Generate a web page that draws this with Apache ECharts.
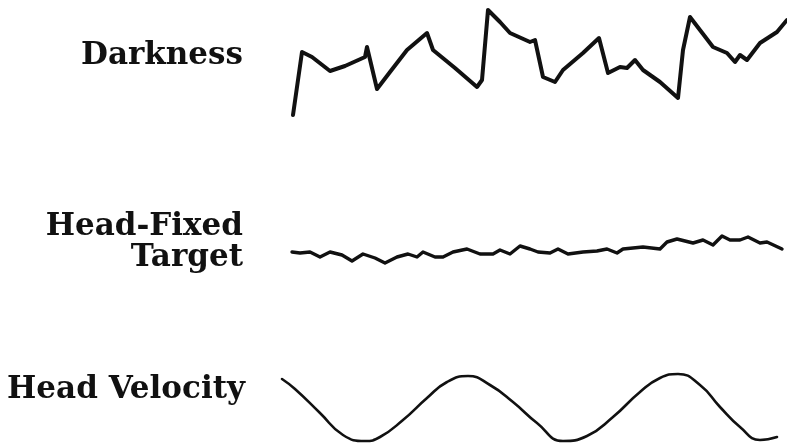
<!DOCTYPE html>
<html><head><meta charset="utf-8">
<script src="https://cdn.jsdelivr.net/npm/echarts@6/dist/echarts.min.js"></script>
<style>html,body{margin:0;padding:0;background:#fff}#c{width:787px;height:445px}</style>
</head><body><div id="c"></div>
<script>
// Time (arbitrary units) and eye/head traces
const darkT = [13,22,32,50,65,85,87,97,110,127,147,153,175,197,202,208,220,230,250,255,263,275,283,303,319,328,340,347,355,363,380,398,403,410,433,447,455,460,467,480,497,507];
const darkV = [15,78,73,59,64,73,83,41,58,80,97,80,62,43,50,120,108,97,88,90,53,48,60,77,92,57,63,62,70,60,48,32,80,113,83,77,68,75,70,87,98,110];
const targT = [12,20,30,40,50,62,72,83,95,105,117,128,137,143,155,163,173,187,200,213,220,230,240,250,258,270,278,288,303,317,327,337,343,363,380,387,397,413,423,433,442,450,460,468,480,487,502];
const targV = [28,27,28,23,28,25,19,26,22,17,23,26,23,28,23,23,28,31,26,26,30,26,34,31,28,27,31,26,28,29,31,27,31,33,31,38,41,37,40,35,44,40,40,43,37,38,31];
const velT = [2,15,40,63,85,100,123,147,167,188,210,233,257,283,307,333,360,380,398,420,440,460,480,497];
const velV = [66,56,32,10,4,8,25,47,63,69,60,43,22,4,9,28,53,67,71,60,38,18,5,8];
const labels = ['Darkness', 'Head-Fixed', 'Target', 'Head Velocity'];

const zip = (a, b) => a.map((t, i) => [t, b[i]]);
const chart = echarts.init(document.getElementById('c'));
const axX = i => ({gridIndex: i, type: 'value', min: 0, max: 507, show: false});
const lbl = (t, x, y) => ({type: 'text', x: x, y: y,
  style: {text: t, font: 'bold 31px "DejaVu Serif"', fill: '#111', align: 'right', verticalAlign: 'middle'}});
chart.setOption({
  animation: false,
  grid: [
    {left: 280, right: 0, top: 0, height: 130},
    {left: 280, right: 0, top: 220, height: 60},
    {left: 280, right: 0, top: 360, height: 85}
  ],
  xAxis: [axX(0), axX(1), axX(2)],
  yAxis: [
    {gridIndex: 0, type: 'value', min: 0, max: 130, show: false},
    {gridIndex: 1, type: 'value', min: 0, max: 60, show: false},
    {gridIndex: 2, type: 'value', min: 0, max: 85, show: false}
  ],
  series: [
    {type: 'line', xAxisIndex: 0, yAxisIndex: 0, data: zip(darkT, darkV), showSymbol: false,
     lineStyle: {color: '#111', width: 4, join: 'round', cap: 'round'}},
    {type: 'line', xAxisIndex: 1, yAxisIndex: 1, data: zip(targT, targV), showSymbol: false,
     lineStyle: {color: '#111', width: 3.4, join: 'round', cap: 'round'}},
    {type: 'line', xAxisIndex: 2, yAxisIndex: 2, data: zip(velT, velV), showSymbol: false, smooth: 0.5,
     lineStyle: {color: '#111', width: 2.6, join: 'round', cap: 'round'}}
  ],
  graphic: [
    lbl(labels[0], 243, 56),
    lbl(labels[1], 243, 227),
    lbl(labels[2], 243, 258),
    lbl(labels[3], 245, 390)
  ]
});
</script></body></html>
